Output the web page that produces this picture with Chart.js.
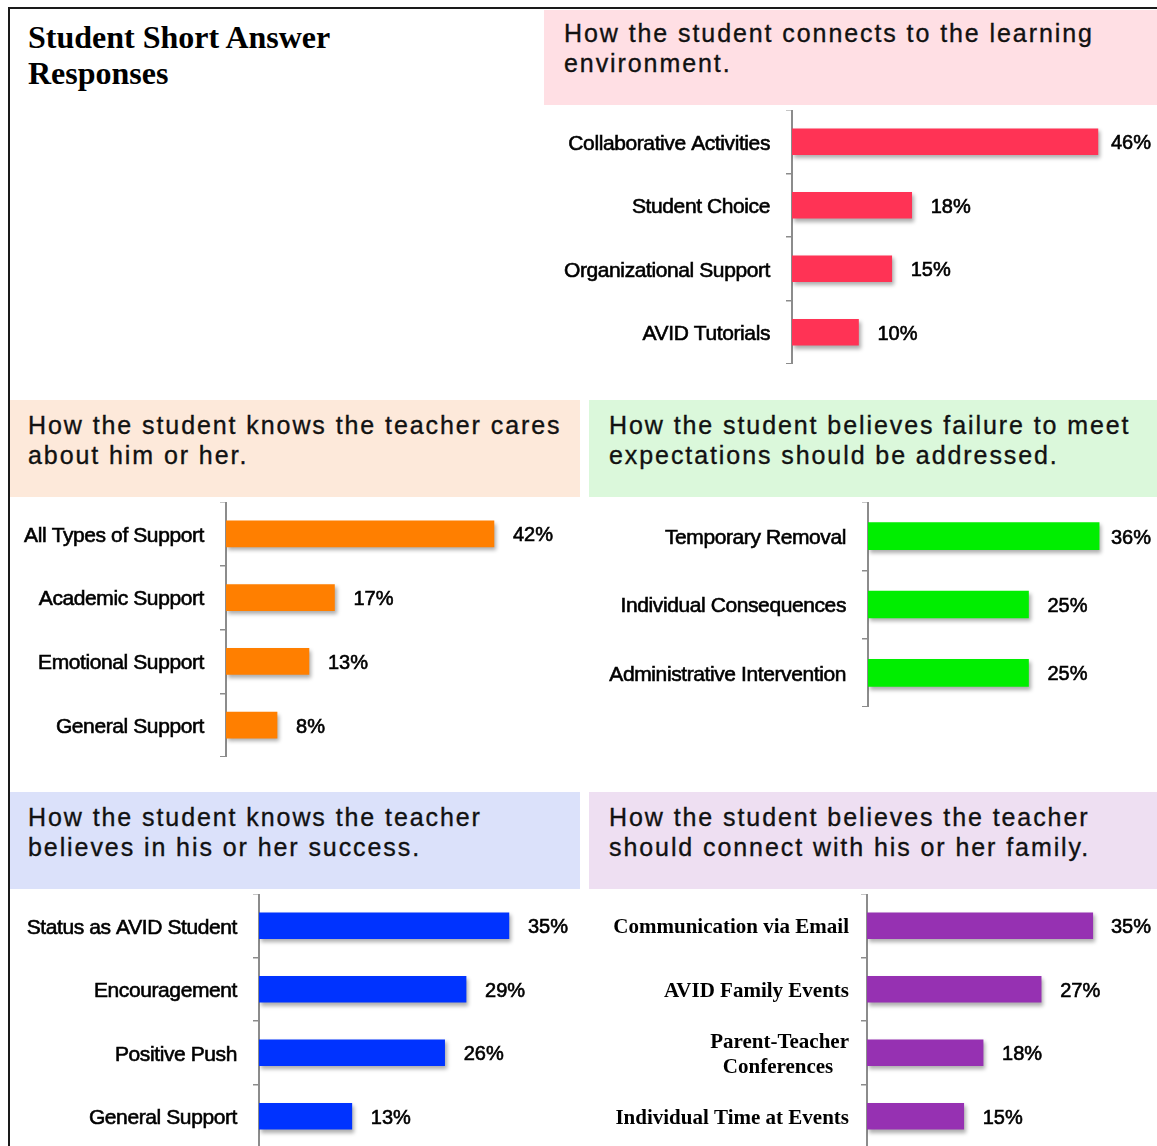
<!DOCTYPE html>
<html>
<head>
<meta charset="utf-8">
<script src="https://cdn.jsdelivr.net/npm/chart.js@4/dist/chart.umd.min.js"></script>
<style>
html,body{margin:0;padding:0;background:#fff;overflow:hidden;width:1157px;height:1146px;position:relative;}
#frame{position:absolute;left:8px;top:7px;width:1170px;height:1160px;border-left:2px solid #1a1a1a;border-top:2px solid #1a1a1a;}
#mainTitle{position:absolute;left:28px;top:19px;font-family:"Liberation Serif","Times New Roman",serif;font-weight:bold;font-size:32px;line-height:36px;color:#000;}
.hdr{position:absolute;box-sizing:border-box;font-family:"Liberation Sans",Arial,sans-serif;font-size:25px;letter-spacing:1.92px;line-height:29.5px;color:#111;white-space:nowrap;-webkit-text-stroke:0.35px #111;}
canvas{position:absolute;}
</style>
</head>
<body>
<div id="frame"></div>
<div id="mainTitle"></div>
<div class="hdr" id="h1" style="left:544px;top:10px;width:613px;height:95px;background:#ffdfe4;padding:9px 0 0 20px;"></div>
<div class="hdr" id="h2" style="left:10px;top:400px;width:570px;height:97px;background:#fde9da;padding:11px 0 0 18px;"></div>
<div class="hdr" id="h3" style="left:589px;top:400px;width:568px;height:97px;background:#dbf8db;padding:11px 0 0 20px;"></div>
<div class="hdr" id="h4" style="left:10px;top:792px;width:570px;height:97px;background:#dbe1fa;padding:11px 0 0 18px;"></div>
<div class="hdr" id="h5" style="left:589px;top:792px;width:568px;height:97px;background:#eedff2;padding:11px 0 0 20px;"></div>
<canvas id="c1"></canvas>
<canvas id="c2"></canvas>
<canvas id="c3"></canvas>
<canvas id="c4"></canvas>
<canvas id="c5"></canvas>
<script>
// ---- Data ----
const mainTitleLines = ['Student Short Answer', 'Responses'];

const title1 = ['How the student connects to the learning', 'environment.'];
const cat1 = ['Collaborative Activities', 'Student Choice', 'Organizational Support', 'AVID Tutorials'];
const val1 = [46, 18, 15, 10];

const title2 = ['How the student knows the teacher cares', 'about him or her.'];
const cat2 = ['All Types of Support', 'Academic Support', 'Emotional Support', 'General Support'];
const val2 = [42, 17, 13, 8];

const title3 = ['How the student believes failure to meet', 'expectations should be addressed.'];
const cat3 = ['Temporary Removal', 'Individual Consequences', 'Administrative Intervention'];
const val3 = [36, 25, 25];

const title4 = ['How the student knows the teacher', 'believes in his or her success.'];
const cat4 = ['Status as AVID Student', 'Encouragement', 'Positive Push', 'General Support'];
const val4 = [35, 29, 26, 13];

const title5 = ['How the student believes the teacher', 'should connect with his or her family.'];
const cat5 = ['Communication via Email', 'AVID Family Events', ['Parent-Teacher', 'Conferences'], 'Individual Time at Events'];
const val5 = [35, 27, 18, 15];

// ---- Text headers ----
function setLines(id, lines){
  const el = document.getElementById(id);
  lines.forEach((l,i)=>{ if(i) el.appendChild(document.createElement('br')); el.appendChild(document.createTextNode(l)); });
}
setLines('mainTitle', mainTitleLines);
setLines('h1', title1); setLines('h2', title2); setLines('h3', title3); setLines('h4', title4); setLines('h5', title5);

// ---- Charts ----
const sansFont = {family: '"Liberation Sans", Arial, sans-serif', size: 21};
const serifBold = {family: '"Liberation Serif","Times New Roman",serif', size: 21, weight: 'bold'};
const valueFont = '20px "Liberation Sans", Arial, sans-serif';

const mctx = document.createElement('canvas').getContext('2d');
function fontString(f){ return (f.weight ? f.weight + ' ' : '') + f.size + 'px ' + f.family; }
// centre the lines of a multi-line label within its right-aligned block
function centredLabel(font){
  return function(value){
    const lbl = this.getLabelForValue(value);
    if (!Array.isArray(lbl)) return lbl;
    mctx.font = fontString(font);
    const ws = lbl.map(l => mctx.measureText(l).width);
    const mx = Math.max(...ws);
    const sp = mctx.measureText('\u00A0').width;
    return lbl.map((l, i) => l + '\u00A0'.repeat(Math.round((mx - ws[i]) / 2 / sp)));
  };
}

function barFx(ls){
  return {
    id: 'barFx',
    beforeDraw(chart){ chart.ctx.letterSpacing = ls; },
    beforeDatasetsDraw(chart){
      const c = chart.ctx; c.save();
      c.shadowColor = 'rgba(0,0,0,0.33)'; c.shadowBlur = 4; c.shadowOffsetX = 2; c.shadowOffsetY = 3;
    },
    afterDatasetsDraw(chart){
      const ctx = chart.ctx; ctx.restore();
      const meta = chart.getDatasetMeta(0);
      const ds = chart.data.datasets[0];
      ctx.save();
      ctx.letterSpacing = '0px';
      ctx.font = valueFont; ctx.fillStyle = '#000'; ctx.strokeStyle = '#000'; ctx.lineWidth = 0.6;
      ctx.textBaseline = 'middle'; ctx.textAlign = 'left';
      meta.data.forEach((bar, i) => {
        const t = ds.data[i] + '%';
        const w = ctx.measureText(t).width;
        const x = Math.min(bar.x + 19, chart.width - 6 - w);
        ctx.strokeText(t, x, bar.y + 2);
        ctx.fillText(t, x, bar.y + 2);
      });
      ctx.restore();
    }
  };
}

function makeChart(cfg){
  const cv = document.getElementById(cfg.id);
  cv.style.left = cfg.left + 'px'; cv.style.top = cfg.top + 'px';
  cv.width = cfg.w; cv.height = cfg.h;
  cv.style.width = cfg.w + 'px'; cv.style.height = cfg.h + 'px';
  new Chart(cv, {
    type: 'bar',
    data: { labels: cfg.labels, datasets: [{ data: cfg.values, backgroundColor: cfg.color, barThickness: cfg.bar, borderWidth: 0 }] },
    options: {
      indexAxis: 'y', responsive: false, animation: false, devicePixelRatio: 1,
      layout: { padding: 0 },
      plugins: { legend: { display: false }, tooltip: { enabled: false } },
      scales: {
        x: { display: false, min: 0, max: (cfg.w - cfg.axisW) / cfg.px },
        y: {
          grid: { drawOnChartArea: false, drawTicks: true, tickLength: 6, color: '#8c8c8c', lineWidth: 1.5, offset: true },
          border: { display: true, color: '#8c8c8c', width: 2 },
          ticks: { color: '#000', font: cfg.font, padding: cfg.pad, autoSkip: false, labelOffset: 2,
                   textStrokeColor: '#000', textStrokeWidth: cfg.stroke, callback: centredLabel(cfg.font) },
          afterFit: (s) => { s.width = cfg.axisW; s.paddingTop = 0; s.paddingBottom = 0; }
        }
      }
    },
    plugins: [barFx(cfg.ls)]
  });
}

makeChart({id:'c1', left:544, top:110, w:613, h:254, axisW:248, px:6.65, labels:cat1, values:val1, color:'#ff3355', bar:26, font:sansFont, stroke:0.6, ls:'-0.4px', pad:16});
makeChart({id:'c2', left:10, top:502, w:570, h:255, axisW:216, px:6.38, labels:cat2, values:val2, color:'#ff7f00', bar:26, font:sansFont, stroke:0.6, ls:'-0.4px', pad:16});
makeChart({id:'c3', left:589, top:502, w:568, h:205, axisW:279, px:6.42, labels:cat3, values:val3, color:'#00ee00', bar:27, font:sansFont, stroke:0.6, ls:'-0.4px', pad:16});
makeChart({id:'c4', left:10, top:894, w:570, h:254, axisW:249, px:7.14, labels:cat4, values:val4, color:'#0033ff', bar:26, font:sansFont, stroke:0.6, ls:'-0.4px', pad:16});
makeChart({id:'c5', left:589, top:894, w:568, h:254, axisW:278, px:6.45, labels:cat5, values:val5, color:'#9631b2', bar:26, font:serifBold, stroke:0, ls:'0px', pad:12});
</script>
</body>
</html>
